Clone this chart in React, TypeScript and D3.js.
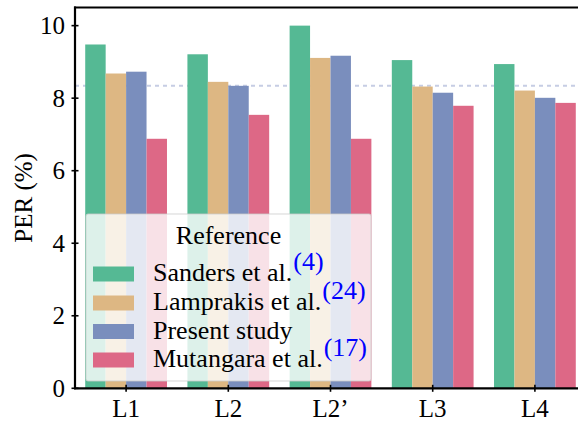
import React from "react";
import * as d3 from "d3";

const categories = ["L1", "L2", "L2\u2019", "L3", "L4"];
const seriesNames = ["Sanders et al.", "Lamprakis et al.", "Present study", "Mutangara et al."];
const seriesRefs = ["(4)", "(24)", "", "(17)"];
const sanders = [9.48, 9.21, 10.0, 9.05, 8.94];
const lamprakis = [8.68, 8.45, 9.11, 8.32, 8.21];
const present = [8.73, 8.34, 9.17, 8.15, 8.01];
const mutangara = [6.88, 7.54, 6.88, 7.79, 7.87];
const yTicks = [0, 2, 4, 6, 8, 10];
const guideLevel = 8.34;

const colors = ["#55b994", "#ddb783", "#7a8ebd", "#dd6886"];
const W = 578;
const H = 422;
const FONT = "Liberation Serif, Times New Roman, Times, serif";

export default function App() {
  const seriesValues = [sanders, lamprakis, present, mutangara];
  const left = 75;
  const right = 586;
  const top = 7.5;
  const bottom = 388.3;

  const x = d3.scaleBand<string>().domain(categories).range([left, right]).paddingInner(0.2).paddingOuter(0.1);
  const xs = d3.scaleBand<string>().domain(seriesNames).range([0, x.bandwidth()]).padding(0);
  const y = d3.scaleLinear().domain([0, 10.5]).range([bottom, top]);

  // legend geometry
  const lg = { x: 86, y: 214, w: 285, h: 167 };
  const rowBase = [281, 310, 338.5, 367];
  const txt = { fontFamily: FONT, fontSize: "25px" };
  const legTxt = { fontFamily: FONT, fontSize: "26px" };

  return (
    <svg
      width={W}
      height={H}
      style={{ position: "absolute", left: 0, top: 0, background: "#fff", fontFamily: FONT }}
    >
      <rect x={0} y={0} width={W} height={H} fill="#fff" />
      {/* horizontal guide behind bars */}
      <line
        x1={left}
        x2={right}
        y1={y(guideLevel)}
        y2={y(guideLevel)}
        stroke="#c6cde4"
        strokeWidth={2}
        strokeDasharray="4,4"
      />
      {/* bars */}
      {seriesValues.map((vals, si) =>
        vals.map((v, ci) => (
          <rect
            key={`${si}-${ci}`}
            x={(x(categories[ci]) as number) + (xs(seriesNames[si]) as number)}
            y={y(v)}
            width={xs.bandwidth()}
            height={y(0) - y(v)}
            fill={colors[si]}
          />
        ))
      )}
      {/* spines */}
      <line x1={left} x2={left} y1={top - 1} y2={bottom + 1} stroke="#000" strokeWidth={2.2} />
      <line x1={left - 1} x2={W} y1={top} y2={top} stroke="#000" strokeWidth={2.2} />
      <line x1={left - 1} x2={W} y1={bottom} y2={bottom} stroke="#000" strokeWidth={2.2} />
      {/* y ticks */}
      {yTicks.map((t) => (
        <g key={t}>
          <line x1={left - 3.5} x2={left + 3.5} y1={y(t)} y2={y(t)} stroke="#000" strokeWidth={1.6} />
          <text x={65} y={y(t)} dy="0.34em" textAnchor="end" style={txt} fill="#000">
            {t}
          </text>
        </g>
      ))}
      {/* x ticks */}
      {categories.map((c) => {
        const cx = (x(c) as number) + x.bandwidth() / 2;
        return (
          <g key={c}>
            <line x1={cx} x2={cx} y1={bottom - 3.5} y2={bottom + 3.5} stroke="#000" strokeWidth={1.6} />
            <text x={cx} y={417} textAnchor="middle" style={txt} fill="#000">
              {c}
            </text>
          </g>
        );
      })}
      <text
        transform={`translate(32, ${(top + bottom) / 2}) rotate(-90)`}
        textAnchor="middle"
        style={txt}
        fill="#000"
      >
        PER (%)
      </text>
      {/* legend */}
      <rect
        x={lg.x}
        y={lg.y}
        width={lg.w}
        height={lg.h}
        rx={2}
        fill="#fff"
        fillOpacity={0.8}
        stroke="#ccc"
        strokeOpacity={0.8}
        strokeWidth={1}
      />
      <text x={lg.x + lg.w / 2} y={244} textAnchor="middle" style={legTxt} fill="#000">
        Reference
      </text>
      {seriesNames.map((name, i) => (
        <g key={name}>
          <rect x={93} y={rowBase[i] - 14.5} width={41} height={15} fill={colors[i]} />
          <text x={153} y={rowBase[i]} style={legTxt} fill="#000">
            {name}
            {seriesRefs[i] && (
              <tspan fill="#0000ff" dx={1} dy={-11}>
                {seriesRefs[i]}
              </tspan>
            )}
          </text>
        </g>
      ))}
    </svg>
  );
}
